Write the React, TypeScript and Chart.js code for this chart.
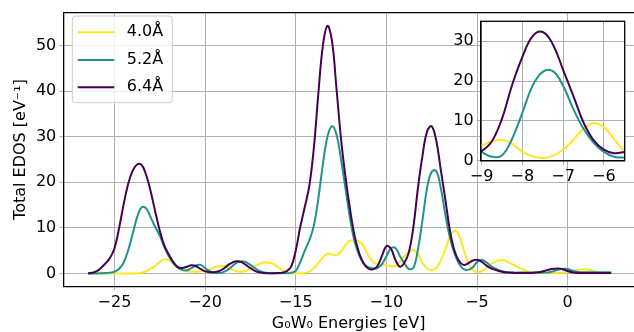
import React, { useEffect, useRef } from "react";
import { Chart, registerables } from "chart.js";
Chart.register(...registerables);

// Energy grid (eV)
const energies = [
  -26.45, -26.25, -26.0, -25.75, -25.5, -25.25, -25.0, -24.75, -24.5, -24.25,
  -24.0, -23.75, -23.5, -23.25, -23.0, -22.75, -22.5, -22.25, -22.0, -21.75,
  -21.5, -21.25, -21.0, -20.75, -20.5, -20.25, -20.0, -19.75, -19.5, -19.25,
  -19.0, -18.75, -18.5, -18.25, -18.0, -17.75, -17.5, -17.25, -17.0, -16.75,
  -16.5, -16.25, -16.0, -15.75, -15.5, -15.25, -15.0, -14.75, -14.5, -14.25,
  -14.0, -13.75, -13.5, -13.25, -13.0, -12.75, -12.5, -12.25, -12.0, -11.75,
  -11.5, -11.25, -11.0, -10.75, -10.5, -10.25, -10.0, -9.75, -9.5, -9.25,
  -9.0, -8.75, -8.5, -8.25, -8.0, -7.75, -7.5, -7.25, -7.0, -6.75,
  -6.5, -6.25, -6.0, -5.75, -5.5, -5.25, -5.0, -4.75, -4.5, -4.25,
  -4.0, -3.75, -3.5, -3.25, -3.0, -2.75, -2.5, -2.25, -2.0, -1.75,
  -1.5, -1.25, -1.0, -0.75, -0.5, -0.25, 0.0, 0.25, 0.5, 0.75,
  1.0, 1.25, 1.5, 1.75, 2.0, 2.25, 2.4,
];

// 4.0 Å
const dos40 = [
  0.02, 0.02, 0.02, 0.02, 0.02, 0.02, 0.02, 0.02, 0.02, 0.02,
  0.02, 0.05, 0.15, 0.5, 1.0, 1.7, 2.5, 3.1, 3.0, 2.2,
  1.3, 0.8, 0.5, 0.4, 0.35, 0.45, 0.6, 0.9, 1.3, 1.6,
  1.6, 1.3, 0.9, 0.5, 0.4, 0.6, 1.0, 1.6, 2.1, 2.4,
  2.4, 2.1, 1.5, 0.8, 0.35, 0.1, 0.05, 0.05, 0.1, 0.4,
  1.2, 2.3, 3.5, 4.3, 4.2, 4.0, 4.8, 6.3, 7.2, 7.3,
  7.0, 6.0, 4.0, 2.6, 2.0, 2.0, 1.9, 1.6, 1.6, 2.6,
  3.75, 4.8, 5.2, 4.2, 2.3, 1.1, 0.7, 1.2, 2.8, 5.2,
  8.1, 9.4, 8.5, 5.4, 2.5, 0.8, 0.3, 0.5, 1.2, 2.0,
  2.6, 2.9, 2.9, 2.4, 1.9, 1.4, 0.9, 0.5, 0.25, 0.15,
  0.15, 0.15, 0.15, 0.15, 0.15, 0.2, 0.3, 0.5, 0.75, 0.9,
  0.9, 0.7, 0.45, 0.25, 0.15, 0.1, 0.1,
];

// 5.2 Å
const dos52 = [
  0.0, 0.0, 0.02, 0.05, 0.1, 0.2, 0.4, 1.0, 2.3, 5.0,
  8.6, 12.3, 14.5, 14.3, 12.3, 10.2, 8.3, 5.8, 3.8, 2.3,
  1.3, 0.8, 0.7, 1.2, 1.8, 1.9, 1.2, 0.5, 0.15, 0.1,
  0.3, 0.8, 1.6, 2.4, 2.7, 2.5, 1.9, 1.2, 0.6, 0.25,
  0.1, 0.05, 0.05, 0.05, 0.05, 0.15, 0.6, 2.5, 5.0, 7.3,
  10.5, 16.5, 24.0, 30.0, 32.3, 30.5, 25.0, 18.5, 12.0, 7.0,
  4.0, 2.2, 1.4, 1.1, 1.2, 2.0, 3.8, 5.5, 5.6, 3.8,
  2.2, 1.0, 1.3, 5.5, 12.0, 18.8, 22.3, 22.5, 18.8, 13.0,
  8.0, 4.5, 2.2, 1.0, 0.8, 1.3, 2.5, 3.0, 2.5, 1.7,
  1.1, 0.7, 0.4, 0.25, 0.2, 0.2, 0.2, 0.2, 0.2, 0.2,
  0.2, 0.22, 0.3, 0.55, 0.85, 1.05, 1.0, 0.65, 0.4, 0.3,
  0.3, 0.3, 0.3, 0.3, 0.3, 0.3, 0.3,
];

// 6.4 Å
const dos64 = [
  0.05, 0.15, 0.45, 1.2, 2.2, 3.4, 5.5, 9.8, 15.0, 19.5,
  22.5, 23.9, 23.8, 21.6, 18.0, 13.6, 9.4, 6.2, 4.2, 2.5,
  1.4, 1.2, 1.5, 1.8, 1.6, 1.0, 0.5, 0.3, 0.3, 0.5,
  1.0, 1.8, 2.4, 2.7, 2.5, 1.9, 1.2, 0.6, 0.25, 0.1,
  0.05, 0.05, 0.1, 0.2, 0.5, 1.5, 5.0, 10.2, 14.6, 19.2,
  27.5, 39.5, 50.0, 54.3, 51.0, 40.5, 29.5, 21.0, 14.0, 8.2,
  4.5, 2.2, 1.1, 0.9, 1.6, 3.8, 6.0, 5.5, 3.0, 1.5,
  2.4, 4.8, 10.5, 19.0, 26.0, 31.2, 32.3, 29.2, 22.8, 16.3,
  9.6, 5.1, 2.8, 1.9, 2.2, 2.8, 3.0, 2.6, 1.8, 1.2,
  0.8, 0.5, 0.3, 0.2, 0.15, 0.1, 0.1, 0.1, 0.12, 0.2,
  0.35, 0.6, 0.9, 1.05, 1.1, 0.9, 0.55, 0.3, 0.15, 0.1,
  0.1, 0.1, 0.1, 0.1, 0.1, 0.1, 0.1,
];

const seriesLabels = ["4.0Å", "5.2Å", "6.4Å"];
const seriesColors = ["#fde725", "#21918c", "#440154"];

const mainXTicks = [-25, -20, -15, -10, -5, 0];
const mainYTicks = [0, 10, 20, 30, 40, 50];
const insetXTicks = [-9, -8, -7, -6];
const insetYTicks = [0, 10, 20, 30];

const FONT = "DejaVu Sans";
const GRID = "#b0b0b0";

const fmt = (v: number | string) => {
  const n = Number(v);
  return n < 0 ? "\u2212" + Math.abs(n) : String(n);
};

function buildDatasets() {
  const all = [dos40, dos52, dos64];
  return all.map((vals, i) => ({
    label: seriesLabels[i],
    data: energies.map((e, j) => ({ x: e, y: vals[j] })),
    borderColor: seriesColors[i],
    backgroundColor: seriesColors[i],
    borderWidth: 2,
    pointRadius: 0,
    fill: false,
    tension: 0.4,
    order: 3 - i,
  }));
}

function axisCfg(
  min: number,
  max: number,
  ticks: number[],
  fit: (s: any) => void,
  title?: string,
  titlePad?: any
) {
  return {
    type: "linear" as const,
    min,
    max,
    afterBuildTicks: (s: any) => {
      s.ticks = ticks.map((v) => ({ value: v }));
    },
    afterFit: fit,
    grid: { color: GRID, lineWidth: 1, tickLength: 4, tickColor: GRID },
    border: { display: true, color: "#000", width: 1.3 },
    ticks: {
      color: "#000",
      font: { family: FONT, size: 16 },
      padding: 3,
      maxRotation: 0,
      autoSkip: false,
      callback: (v: any) => fmt(v),
    },
    title: title
      ? {
          display: true,
          text: title,
          color: "#000",
          font: { family: FONT, size: 16 },
          padding: titlePad,
        }
      : { display: false },
  };
}

const topSpine = {
  id: "topSpine",
  afterDraw(chart: any) {
    const { ctx, chartArea } = chart;
    ctx.save();
    ctx.strokeStyle = "#000";
    ctx.lineWidth = 1.3;
    ctx.beginPath();
    ctx.moveTo(chartArea.left, chartArea.top);
    ctx.lineTo(chartArea.right, chartArea.top);
    ctx.stroke();
    ctx.restore();
  },
};

const legendBox = {
  id: "legendBox",
  afterDraw(chart: any) {
    const { ctx } = chart;
    const x0 = 72.3, y0 = 16, w = 100, h = 86.7, r = 3;
    ctx.save();
    ctx.beginPath();
    ctx.moveTo(x0 + r, y0);
    ctx.lineTo(x0 + w - r, y0);
    ctx.quadraticCurveTo(x0 + w, y0, x0 + w, y0 + r);
    ctx.lineTo(x0 + w, y0 + h - r);
    ctx.quadraticCurveTo(x0 + w, y0 + h, x0 + w - r, y0 + h);
    ctx.lineTo(x0 + r, y0 + h);
    ctx.quadraticCurveTo(x0, y0 + h, x0, y0 + h - r);
    ctx.lineTo(x0, y0 + r);
    ctx.quadraticCurveTo(x0, y0, x0 + r, y0);
    ctx.closePath();
    ctx.fillStyle = "rgba(255,255,255,0.8)";
    ctx.fill();
    ctx.strokeStyle = "#cccccc";
    ctx.lineWidth = 1;
    ctx.stroke();
    const rows = [32.3, 60, 87.3];
    ctx.font = `16px "${FONT}"`;
    ctx.textBaseline = "middle";
    ctx.textAlign = "left";
    rows.forEach((yy, i) => {
      ctx.strokeStyle = seriesColors[i];
      ctx.lineWidth = 2;
      ctx.beginPath();
      ctx.moveTo(77.7, yy);
      ctx.lineTo(114.3, yy);
      ctx.stroke();
      ctx.fillStyle = "#000";
      ctx.fillText(seriesLabels[i], 126.7, yy - 0.5);
    });
    ctx.restore();
  },
};

const insetFrame = {
  id: "insetFrame",
  beforeDraw(chart: any) {
    const { ctx, chartArea: a } = chart;
    ctx.save();
    ctx.fillStyle = "#ffffff";
    ctx.fillRect(a.left, a.top, a.right - a.left, a.bottom - a.top);
    ctx.restore();
  },
  afterDraw(chart: any) {
    const { ctx, chartArea: a } = chart;
    ctx.save();
    ctx.strokeStyle = "#000";
    ctx.lineWidth = 1.3;
    ctx.strokeRect(a.left, a.top, a.right - a.left, a.bottom - a.top);
    ctx.restore();
  },
};

export default function App() {
  const mainRef = useRef<HTMLCanvasElement>(null);
  const insetRef = useRef<HTMLCanvasElement>(null);

  useEffect(() => {
    const main = new Chart(mainRef.current!, {
      type: "line",
      data: { datasets: buildDatasets() as any },
      options: {
        animation: false,
        responsive: false,
        devicePixelRatio: 1,
        layout: { padding: { top: 7.3, left: 0, right: 0, bottom: 0 } },
        plugins: { legend: { display: false }, tooltip: { enabled: false } },
        scales: {
          x: axisCfg(
            -27.82,
            3.66,
            mainXTicks,
            (s: any) => {
              s.height = 45.7;
            },
            "G\u2080W\u2080 Energies [eV]",
            { top: 0, bottom: -1 }
          ) as any,
          y: axisCfg(
            -2.8,
            57.2,
            mainYTicks,
            (s: any) => {
              s.width = 63.3;
            },
            "Total EDOS [eV\u207B\u00B9]",
            { top: 11, bottom: 0 }
          ) as any,
        },
      },
      plugins: [topSpine, legendBox],
    });

    const inset = new Chart(insetRef.current!, {
      type: "line",
      data: { datasets: buildDatasets() as any },
      options: {
        animation: false,
        responsive: false,
        devicePixelRatio: 1,
        layout: { padding: { top: 21.3, left: 0, right: 9.3, bottom: 0 } },
        plugins: { legend: { display: false }, tooltip: { enabled: false } },
        scales: {
          x: axisCfg(-9.02, -5.49, insetXTicks, (s: any) => {
            s.height = 29.3;
          }) as any,
          y: axisCfg(0, 35, insetYTicks, (s: any) => {
            s.width = 50.7;
          }) as any,
        },
      },
      plugins: [insetFrame],
    });

    return () => {
      main.destroy();
      inset.destroy();
    };
  }, []);

  return (
    <div
      style={{
        position: "fixed",
        left: 0,
        top: 0,
        width: 634,
        height: 332,
        background: "#fff",
        overflow: "hidden",
      }}
    >
      <canvas
        ref={mainRef}
        width={634}
        height={332}
        style={{ position: "absolute", left: 0, top: 0, width: 634, height: 332 }}
      />
      <canvas
        ref={insetRef}
        width={204}
        height={190}
        style={{ position: "absolute", left: 430, top: 0, width: 204, height: 190 }}
      />
    </div>
  );
}
